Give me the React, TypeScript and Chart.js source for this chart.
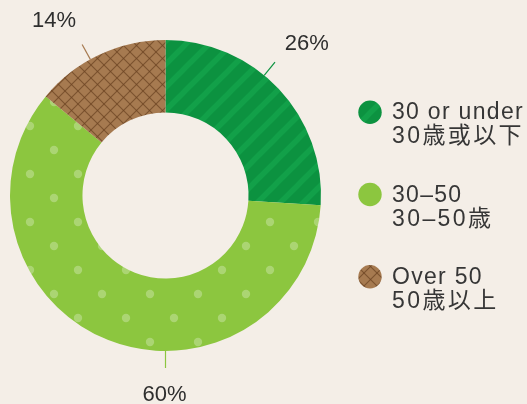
import React, { useEffect, useRef } from "react";
import { Chart, registerables } from "chart.js";

Chart.register(...registerables);

// ---- data ----
const categoriesEn = ["30 or under", "30–50", "Over 50"];
const categoriesZh = ["30歳或以下", "30–50歳", "50歳以上"];
const values = [26, 60, 14];

// ---- styles / layout ----
const BG = "#f4eee7";
const baseColors = ["#0c9240", "#8cc63f", "#a67a50"];
const leaderAngles = [39.4, 180, -28.9]; // degrees clockwise from top
const labelAngles = [42.9, 180.3, -32.5];
const labelGaps = [52, 44, 52];
const FONT_STACK = '"Liberation Sans", Arial, "Noto Sans CJK JP", sans-serif';

function makeStripe(): CanvasPattern | string {
  const P = 23;
  const c = document.createElement("canvas");
  c.width = P;
  c.height = P;
  const g = c.getContext("2d");
  if (!g) return baseColors[0];
  g.fillStyle = baseColors[0];
  g.fillRect(0, 0, P, P);
  g.strokeStyle = "#12a049";
  g.lineWidth = 5.5;
  for (let k = -1; k <= 1; k++) {
    g.beginPath();
    g.moveTo(k * P - 2, P + 2);
    g.lineTo(k * P + P + 2, -2);
    g.stroke();
  }
  return g.createPattern(c, "repeat") || baseColors[0];
}

function makeDots(): CanvasPattern | string {
  const P = 48;
  const c = document.createElement("canvas");
  c.width = P;
  c.height = P;
  const g = c.getContext("2d");
  if (!g) return baseColors[1];
  g.fillStyle = baseColors[1];
  g.fillRect(0, 0, P, P);
  g.fillStyle = "rgba(255,255,255,0.27)";
  [
    [6, 6],
    [30, 30],
  ].forEach(([x, y]) => {
    g.beginPath();
    g.arc(x, y, 4.2, 0, Math.PI * 2);
    g.fill();
  });
  return g.createPattern(c, "repeat") || baseColors[1];
}

function makeHatch(): CanvasPattern | string {
  const P = 13;
  const c = document.createElement("canvas");
  c.width = P;
  c.height = P;
  const g = c.getContext("2d");
  if (!g) return baseColors[2];
  g.fillStyle = baseColors[2];
  g.fillRect(0, 0, P, P);
  g.strokeStyle = "rgba(110,70,35,0.75)";
  g.lineWidth = 1.1;
  for (let k = -1; k <= 1; k++) {
    g.beginPath();
    g.moveTo(k * P - 1, P + 1);
    g.lineTo(k * P + P + 1, -1);
    g.stroke();
    g.beginPath();
    g.moveTo(k * P - 1, -1);
    g.lineTo(k * P + P + 1, P + 1);
    g.stroke();
  }
  return g.createPattern(c, "repeat") || baseColors[2];
}

export default function App() {
  const ref = useRef<HTMLCanvasElement | null>(null);

  useEffect(() => {
    const canvas = ref.current;
    if (!canvas) return;
    const fills = [makeStripe(), makeDots(), makeHatch()];

    const bgPlugin = {
      id: "bg",
      beforeDraw(chart: any) {
        const ctx = chart.ctx;
        ctx.save();
        ctx.fillStyle = BG;
        ctx.fillRect(0, 0, chart.width, chart.height);
        ctx.restore();
      },
    };

    const annotPlugin = {
      id: "annot",
      afterDraw(chart: any) {
        const ctx: CanvasRenderingContext2D = chart.ctx;
        const meta = chart.getDatasetMeta(0);
        ctx.save();
        meta.data.forEach((arc: any, i: number) => {
          const cx = arc.x;
          const cy = arc.y;
          const R = arc.outerRadius;
          const a = ((leaderAngles[i] - 90) * Math.PI) / 180;
          ctx.strokeStyle = baseColors[i];
          ctx.lineWidth = 1.2;
          ctx.beginPath();
          ctx.moveTo(cx + R * Math.cos(a), cy + R * Math.sin(a));
          ctx.lineTo(cx + (R + 17) * Math.cos(a), cy + (R + 17) * Math.sin(a));
          ctx.stroke();

          const la = ((labelAngles[i] - 90) * Math.PI) / 180;
          const lr = R + labelGaps[i];
          ctx.fillStyle = "#2e2e2e";
          ctx.font = `22px ${FONT_STACK}`;
          ctx.textAlign = "center";
          ctx.textBaseline = "middle";
          ctx.fillText(`${values[i]}%`, cx + lr * Math.cos(la), cy + lr * Math.sin(la));
        });

        // legend
        const lx = 370;
        const ly0 = 112.3;
        const step = 82.2;
        categoriesEn.forEach((name, i) => {
          const y = ly0 + i * step;
          ctx.fillStyle = fills[i] as any;
          ctx.beginPath();
          ctx.arc(lx, y, 11.7, 0, Math.PI * 2);
          ctx.fill();
          ctx.fillStyle = "#363636";
          ctx.font = `23px ${FONT_STACK}`;
          ctx.textAlign = "left";
          ctx.textBaseline = "alphabetic";
          (ctx as any).letterSpacing = "1.3px";
          ctx.fillText(name, 392, y + 7);
          (ctx as any).letterSpacing = "2.4px";
          ctx.fillText(categoriesZh[i], 392, y + 31);
          (ctx as any).letterSpacing = "0px";
        });
        ctx.restore();
      },
    };

    const chart = new Chart(canvas, {
      type: "doughnut",
      data: {
        labels: categoriesEn,
        datasets: [
          {
            data: values,
            backgroundColor: fills as any,
            hoverBackgroundColor: fills as any,
            borderWidth: 0,
          },
        ],
      },
      options: {
        responsive: false,
        animation: false,
        cutout: "53.4%",
        layout: { padding: { left: 10, top: 40, right: 206, bottom: 53 } },
        plugins: {
          legend: { display: false },
          tooltip: { enabled: false },
        },
        events: [],
      },
      plugins: [bgPlugin, annotPlugin],
    });
    return () => chart.destroy();
  }, []);

  return (
    <div style={{ position: "fixed", left: 0, top: 0, width: 527, height: 404, overflow: "hidden", background: BG }}>
      <canvas ref={ref} width={527} height={404} style={{ display: "block", width: 527, height: 404 }} />
    </div>
  );
}
